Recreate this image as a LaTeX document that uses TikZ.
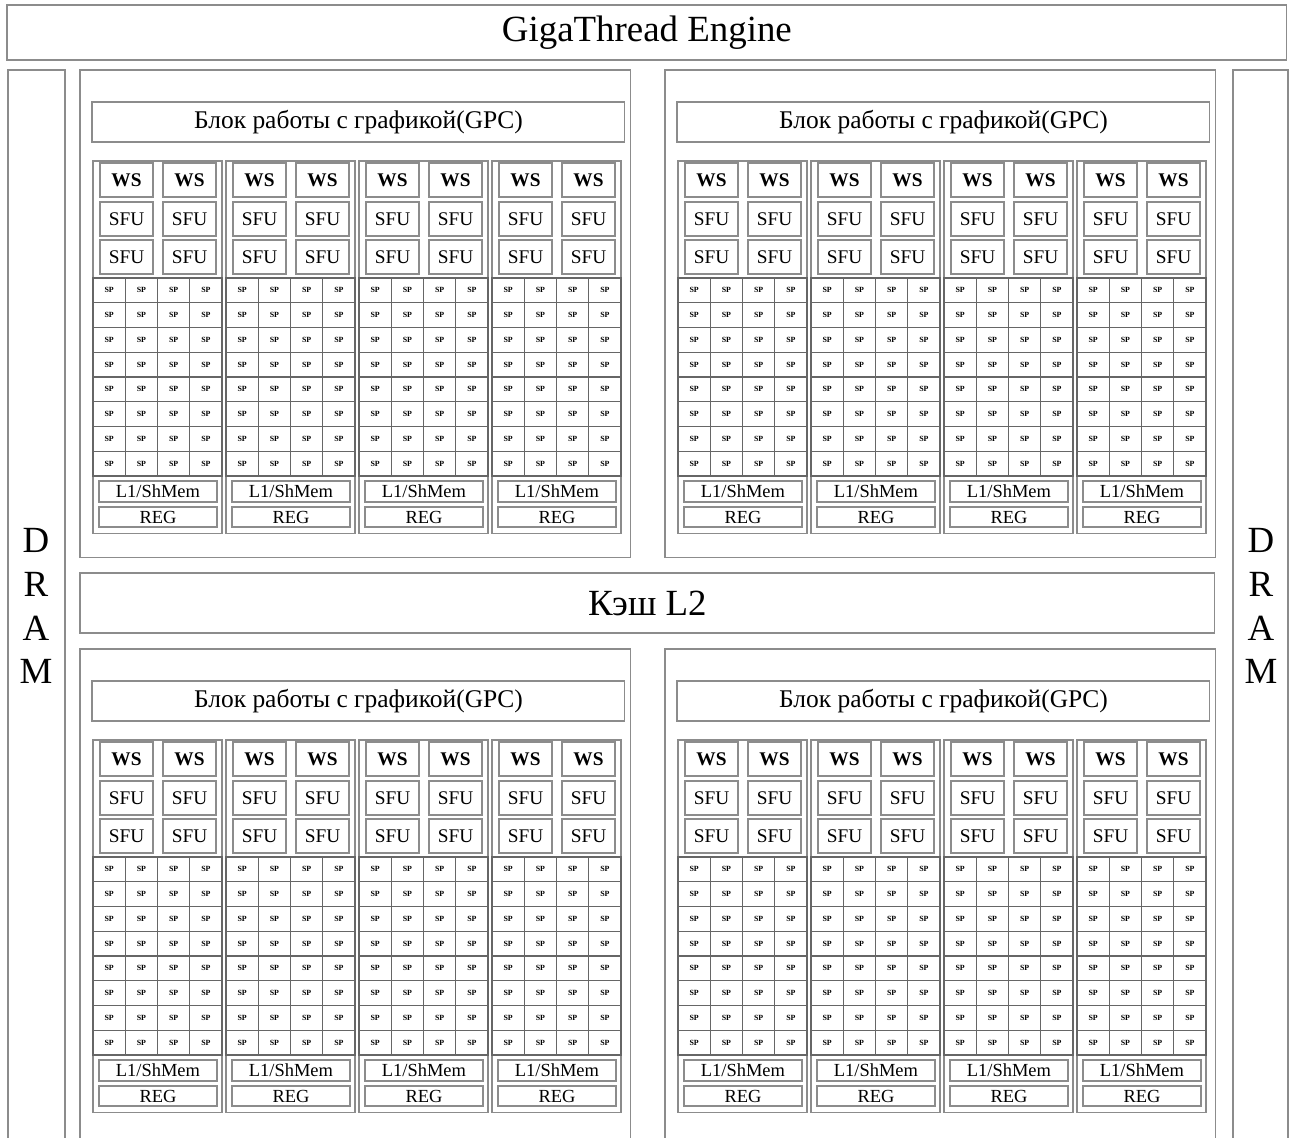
\documentclass[tikz,border=0pt]{standalone}
\usepackage{fontspec}
\setmainfont{Liberation Serif}
\usetikzlibrary{positioning}

\begin{document}
\begin{tikzpicture}[
  x=0.02cm, y=-0.02cm,
  every node/.style={inner sep=0pt, outer sep=0pt},
  box/.style={draw=black!45, line width=0.6pt, anchor=north west},
  big/.style={font=\fontsize{21}{25}\selectfont},
  gpctitle/.style={box, minimum width=10.66cm, minimum height=0.8cm, font=\fontsize{14.5}{17}\selectfont},
  unit/.style={box, minimum width=1.06cm, minimum height=0.68cm, font=\fontsize{11}{12}\selectfont\bfseries},
  sfubox/.style={unit, font=\fontsize{11}{12}\selectfont},
  spcell/.style={box, draw=black!60, minimum width=0.645cm, minimum height=0.495cm, font=\fontsize{4.5}{5}\selectfont\bfseries},
  mem/.style={box, minimum width=2.36cm, font=\fontsize{10.5}{12}\selectfont}
]
\useasboundingbox (0,0) rectangle (1289,1137);
\clip (0,0) rectangle (1289,1137);

% top engine, memory and cache
\node[box, big, minimum width=25.6cm, minimum height=1.1cm] (engine) at (7,5) {GigaThread Engine};
\node[box, minimum width=1.14cm, minimum height=21.6cm] (dramL) at (8,70) {};
\node[box, minimum width=1.1cm, minimum height=21.6cm] (dramR) at (1233,70) {};
\node[big, align=center] (dramLtext) at (36,606) {D\\R\\A\\M};
\node[big, align=center] (dramRtext) at (1261,606) {D\\R\\A\\M};
\node[box, big, minimum width=22.7cm, minimum height=1.2cm] (l2) at (80,573) {Кэш L2};

% four GPC, each with four SM
\foreach \g/\gx/\gy/\gh in {1/80/70/9.76, 2/665/70/9.76, 3/80/649/10.2, 4/665/649/10.2}{
  \node[box, minimum width=11.02cm, minimum height=\gh cm] (gpc-\g) at (\gx,\gy) {};
  \node[gpctitle] (title-\g) at (\gx+12,\gy+32) {Блок работы с графикой(GPC)};
  \foreach \s in {1,...,4}{
    \pgfmathsetmacro\sx{\gx+13+133*(\s-1)}
    \pgfmathsetmacro\sy{\gy+91}
    \node[box, minimum width=2.58cm, minimum height=7.46cm] (sm-\g-\s) at (\sx,\sy) {};
    \node[unit] (ws-\g-\s-a) at (\sx+7,\sy+2) {WS};
    \node[unit] (ws-\g-\s-b) at (\sx+70,\sy+2) {WS};
    \node[sfubox] (sfu-\g-\s-a) at (\sx+7,\sy+41) {SFU};
    \node[sfubox] (sfu-\g-\s-b) at (\sx+70,\sy+41) {SFU};
    \node[sfubox] (sfu-\g-\s-c) at (\sx+7,\sy+79) {SFU};
    \node[sfubox] (sfu-\g-\s-d) at (\sx+70,\sy+79) {SFU};
    \foreach \r in {0,...,7}
      \foreach \c in {0,...,3}
        \node[spcell] (sp-\g-\s-\r-\c) at (\sx+32.25*\c,\sy+117+24.75*\r) {SP};
    \node[mem, minimum height=0.42cm] (l1-\g-\s) at (\sx+6,\sy+320) {L1/ShMem};
    \node[mem, minimum height=0.40cm] (reg-\g-\s) at (\sx+6,\sy+346) {REG};
  }
}
\end{tikzpicture}
\end{document}
